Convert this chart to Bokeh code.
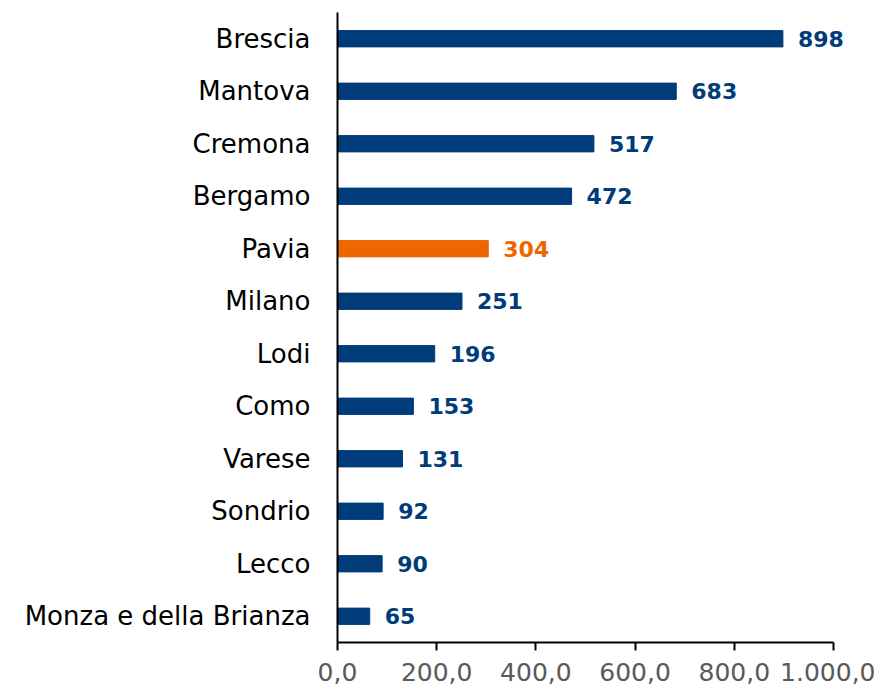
from bokeh.plotting import figure
from bokeh.models import ColumnDataSource, FixedTicker
from bokeh.core.properties import value
from bokeh.embed import file_html
from bokeh.resources import INLINE

provinces = ["Brescia", "Mantova", "Cremona", "Bergamo", "Pavia", "Milano", "Lodi",
             "Como", "Varese", "Sondrio", "Lecco", "Monza e della Brianza"]
values = [898, 683, 517, 472, 304, 251, 196, 153, 131, 92, 90, 65]
highlight = "Pavia"
x_ticks = [0, 200, 400, 600, 800, 1000]
x_tick_labels = ["0,0", "200,0", "400,0", "600,0", "800,0", "1.000,0"]

BLUE = "#003B7A"
ORANGE = "#EE6600"
colors = [ORANGE if p == highlight else BLUE for p in provinces]

src = ColumnDataSource(dict(prov=provinces, val=values, col=colors,
                            lab=[str(v) for v in values]))

FONT = "DejaVu Sans"

p = figure(width=875, height=685, y_range=list(reversed(provinces)), x_range=(0, 1084.7),
           output_backend="svg", toolbar_location=None,
           min_border_left=337, min_border_right=0, min_border_top=12, min_border_bottom=43)

p.hbar(y="prov", right="val", left=0, height=0.31, color="col", source=src)
p.text(x="val", y="prov", text="lab", source=src, x_offset=15,
       text_align="left", text_baseline="middle", text_color="col",
       text_font=value(FONT), text_font_style="bold", text_font_size="22px")

p.xgrid.visible = False
p.ygrid.visible = False
p.outline_line_color = None

p.xaxis.bounds = (0, 1000)
p.xaxis.ticker = FixedTicker(ticks=x_ticks)
p.xaxis.major_label_overrides = {t: l for t, l in zip(x_ticks, x_tick_labels)}
p.xaxis.major_tick_in = 0
p.xaxis.major_tick_out = 8
p.xaxis.minor_tick_line_color = None
p.xaxis.axis_line_width = 2
p.xaxis.axis_line_color = "black"
p.xaxis.major_tick_line_width = 2
p.xaxis.major_tick_line_color = "black"
p.xaxis.major_label_text_font = FONT
p.xaxis.major_label_text_font_size = "25px"
p.xaxis.major_label_text_color = "#595959"
p.xaxis.major_label_standoff = 12

p.yaxis.axis_line_width = 2
p.yaxis.axis_line_color = "black"
p.yaxis.major_tick_line_color = None
p.yaxis.minor_tick_line_color = None
p.yaxis.major_label_text_font = FONT
p.yaxis.major_label_text_font_size = "26px"
p.yaxis.major_label_text_color = "black"
p.yaxis.major_label_standoff = 21

open("out.html", "w").write(file_html(p, INLINE))
